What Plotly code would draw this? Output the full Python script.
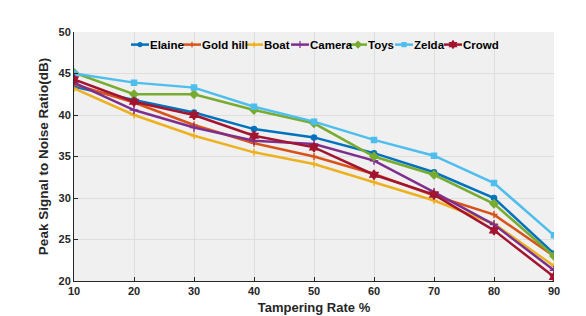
import plotly.graph_objects as go

rates = [10, 20, 30, 40, 50, 60, 70, 80, 90]
elaine = [43.4, 41.8, 40.3, 38.3, 37.3, 35.4, 33.1, 30.0, 23.3]
gold_hill = [43.7, 41.5, 38.8, 36.6, 35.0, 32.9, 30.3, 28.0, 23.0]
boat = [43.2, 40.0, 37.5, 35.5, 34.1, 31.9, 29.7, 26.9, 21.8]
camera = [43.9, 40.6, 38.5, 36.9, 36.5, 34.5, 30.7, 26.8, 21.3]
toys = [45.1, 42.5, 42.5, 40.6, 39.0, 35.0, 32.8, 29.3, 23.0]
zelda = [45.0, 43.9, 43.3, 41.0, 39.2, 37.0, 35.1, 31.8, 25.5]
crowd = [44.3, 41.6, 40.0, 37.5, 36.1, 32.8, 30.4, 26.1, 20.5]
names = ["Elaine", "Gold hill", "Boat", "Camera", "Toys", "Zelda", "Crowd"]

colors = ["#0072BD", "#D95319", "#EDB120", "#7E2F8E", "#77AC30", "#4DBEEE", "#A2142F"]
symbols = ["circle", "cross-thin", "cross-thin", "cross-thin", "diamond", "square", "hexagram"]
sizes = [5, 5, 5, 6, 6, 5, 7]
data = [elaine, gold_hill, boat, camera, toys, zelda, crowd]

W, H = 586, 316
L, R, T, B = 66, 40, 24, 35
PW, PH = W - L - R, H - T - B

fig = go.Figure()
for name, vals, color, sym, size in zip(names, data, colors, symbols, sizes):
    fig.add_trace(go.Scatter(
        x=rates, y=vals, name=name, mode="lines+markers", showlegend=False,
        line=dict(color=color, width=2.5),
        marker=dict(symbol=sym, size=size, color=color,
                    line=dict(color=color, width=1.5)),
    ))

# custom compact legend (MATLAB style), placed in pixel offsets of the figure
legend_line_px = [123, 175, 237, 283, 341, 387, 436]   # legend sample start (px)
legend_line_len = 18
legend_y_px = 37
ly = (H - B - legend_y_px) / PH
shapes = []
annotations = []
for i, name in enumerate(names):
    x0 = (legend_line_px[i] - L) / PW
    x1 = (legend_line_px[i] + legend_line_len - L) / PW
    shapes.append(dict(type="line", xref="paper", yref="paper", x0=x0, x1=x1, y0=ly, y1=ly,
                       line=dict(color=colors[i], width=2.5)))
    annotations.append(dict(xref="paper", yref="paper", x=x1, y=ly, xanchor="left", yanchor="middle",
                            text=f"<b>{name}</b>", showarrow=False, xshift=-1,
                            font=dict(size=11.5, color="black", family="Liberation Sans, Arial, sans-serif")))
    fig.add_trace(go.Scatter(
        x=[(x0 + x1) / 2], y=[ly], xaxis="x2", yaxis="y2", mode="markers", showlegend=False,
        hoverinfo="skip",
        marker=dict(symbol=symbols[i], size=max(sizes[i] - 1, 4), color=colors[i],
                    line=dict(color=colors[i], width=1.2)),
    ))

font = "Liberation Sans, Arial, sans-serif"
fig.update_layout(
    width=W, height=H,
    margin=dict(l=L, r=R, t=T, b=B),
    paper_bgcolor="white",
    plot_bgcolor="#F0F0F0",
    font=dict(family=font, size=11, color="#262626"),
    showlegend=False,
    shapes=shapes,
    annotations=annotations,
    xaxis=dict(
        range=[10, 90], tickmode="array", tickvals=rates,
        ticktext=[f"<b>{v}</b>" for v in rates],
        showgrid=True, gridcolor="#DEDEDE", gridwidth=1,
        zeroline=False, showline=True, linecolor="#262626", linewidth=1,
        ticks="inside", ticklen=4, tickcolor="#262626",
        title=dict(text="<b>Tampering Rate %</b>", font=dict(size=13, color="#262626"), standoff=6),
        tickfont=dict(size=11, color="#262626"),
    ),
    yaxis=dict(
        range=[20, 50], tickmode="array", tickvals=[20, 25, 30, 35, 40, 45, 50],
        ticktext=[f"<b>{v}</b>" for v in [20, 25, 30, 35, 40, 45, 50]],
        showgrid=True, gridcolor="#DEDEDE", gridwidth=1,
        zeroline=False, showline=True, linecolor="#262626", linewidth=1,
        ticks="inside", ticklen=4, tickcolor="#262626",
        title=dict(text="<b>Peak Signal to Noise Ratio(dB)</b>", font=dict(size=13.5, color="#262626"), standoff=6),
        tickfont=dict(size=11, color="#262626"),
    ),
    xaxis2=dict(overlaying="x", range=[0, 1], visible=False, fixedrange=True),
    yaxis2=dict(overlaying="y", range=[0, 1], visible=False, fixedrange=True),
)

fig.write_html("out.html")
